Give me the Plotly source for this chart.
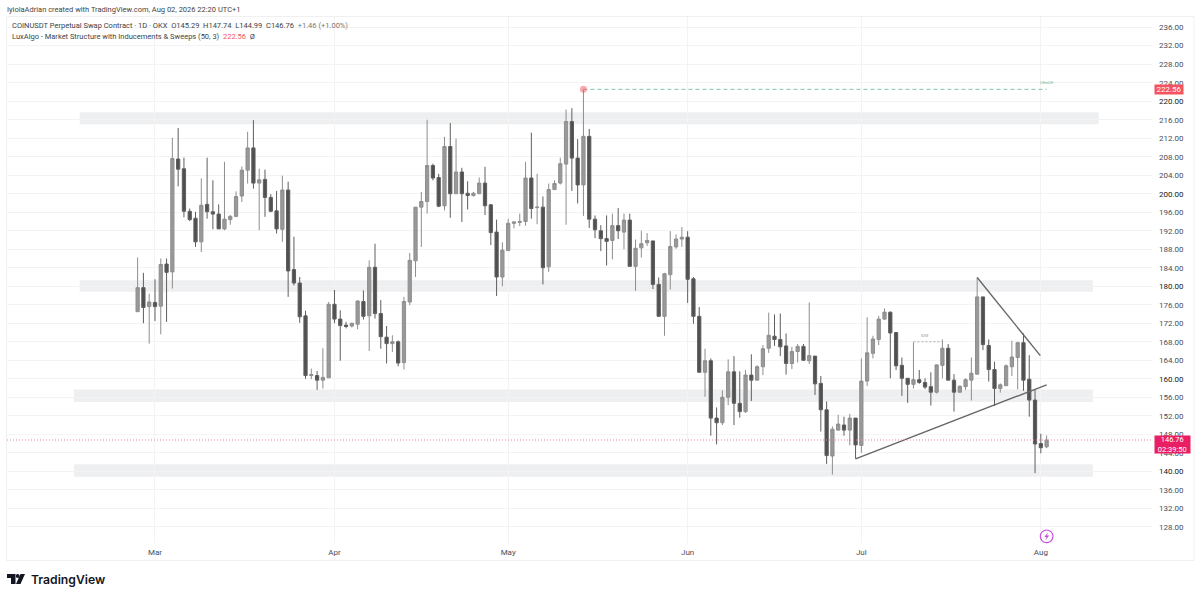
import pandas as pd
import plotly.graph_objects as go

W, H = 1200, 598

# daily candles
dates = pd.date_range("2026-02-26", periods=158, freq="D")
opens = [174.5, 179.7, 175.6, 176.5, 175.7, 184.8, 183.1, 207.5, 205.4, 196.2, 194.7, 189.6, 197.7, 196.1, 195.6, 192.4, 194.4, 195.1, 199.5, 205.1,
         209.9, 202.3, 203.1, 199.2, 196.3, 192.3, 200.8, 183.6, 180.7, 173.6, 160.7, 160.7, 159.7, 160.2, 176.1, 172.9, 171.6, 171.4, 171.8, 176.7,
         173.6, 184.1, 174.1, 169.0, 167.6, 168.0, 163.5, 176.6, 185.5, 197.1, 198.3, 206.1, 203.5, 197.4, 210.2, 200.0, 204.7, 200.1, 199.6, 200.0,
         202.3, 197.6, 191.7, 182.0, 187.7, 193.6, 193.8, 194.0, 203.4, 197.0, 197.1, 184.2, 200.9, 202.3, 206.4, 215.6, 207.7, 201.9, 212.4, 194.5,
         192.0, 190.3, 189.9, 193.1, 191.7, 194.3, 184.3, 188.3, 189.4, 189.8, 180.4, 173.5, 182.5, 188.5, 190.2, 190.6, 181.6, 173.5, 161.4, 163.9,
         151.5, 150.5, 156.0, 161.5, 154.7, 152.9, 160.8, 159.7, 162.6, 166.6, 169.2, 168.5, 167.1, 163.3, 165.9, 167.0, 163.9, 164.9, 159.0, 153.3,
         143.3, 148.9, 150.0, 148.9, 151.5, 145.6, 159.5, 165.5, 168.5, 172.9, 174.4, 170.0, 162.9, 160.1, 158.8, 159.8, 159.2, 158.3, 157.1, 162.9,
         166.6, 159.7, 157.1, 158.3, 159.7, 161.0, 177.7, 167.2, 162.0, 157.9, 158.5, 162.6, 164.6, 167.8, 159.9, 155.4, 146.0, 145.29]
highs = [186.2, 182.9, 178.4, 181.5, 186.0, 186.0, 212.1, 214.2, 207.8, 196.8, 196.1, 203.3, 207.8, 202.9, 197.7, 206.9, 195.4, 200.5, 205.9, 213.4,
         215.9, 205.4, 205.2, 199.9, 200.6, 203.9, 202.6, 190.7, 182.0, 174.7, 162.2, 161.7, 166.6, 176.6, 179.2, 174.8, 172.3, 172.1, 177.0, 179.1,
         185.6, 189.2, 177.0, 171.4, 169.4, 168.3, 177.7, 187.2, 197.1, 200.4, 216.0, 206.5, 204.3, 212.3, 215.3, 211.9, 205.6, 202.7, 200.4, 203.5,
         205.8, 197.8, 194.4, 189.5, 194.6, 194.1, 195.7, 206.9, 213.2, 204.3, 199.4, 202.2, 202.9, 207.8, 218.2, 218.5, 211.8, 222.56, 214.0, 195.3,
         193.2, 195.3, 195.7, 196.9, 195.7, 195.7, 190.1, 192.0, 191.5, 189.8, 181.9, 182.9, 191.9, 191.2, 192.8, 191.9, 182.0, 175.5, 166.5, 164.4,
         153.8, 157.5, 164.2, 164.9, 161.6, 161.9, 165.3, 162.9, 167.3, 174.3, 173.9, 174.1, 169.8, 166.9, 167.5, 167.5, 176.5, 164.9, 160.6, 155.1,
         149.7, 152.2, 151.8, 152.4, 151.5, 164.4, 173.3, 169.3, 173.6, 175.2, 174.5, 170.0, 164.6, 160.1, 167.9, 161.9, 160.1, 161.4, 163.1, 168.5,
         167.5, 161.0, 158.5, 160.1, 164.6, 181.9, 177.7, 168.5, 163.7, 159.0, 163.1, 168.2, 168.0, 169.8, 165.1, 157.6, 148.1, 147.74]
lows = [174.5, 172.0, 167.6, 172.5, 169.6, 172.3, 179.5, 201.6, 194.9, 194.1, 188.5, 187.4, 194.6, 192.3, 192.4, 192.1, 193.3, 194.9, 198.2, 202.2,
        201.1, 192.1, 195.0, 196.0, 191.4, 189.6, 177.7, 180.2, 172.1, 160.0, 159.9, 157.6, 157.9, 160.2, 172.0, 163.9, 170.9, 171.1, 170.7, 172.8,
        166.0, 173.0, 166.5, 163.3, 165.8, 162.7, 162.0, 175.9, 182.0, 188.5, 195.7, 202.9, 197.1, 196.4, 194.8, 200.0, 193.9, 196.6, 199.4, 200.0,
        195.4, 188.9, 177.9, 180.0, 187.7, 192.5, 193.0, 193.1, 194.6, 193.4, 180.4, 183.1, 200.9, 202.0, 193.3, 200.6, 197.9, 195.2, 192.6, 190.4,
        187.6, 184.5, 185.8, 190.2, 188.0, 184.3, 179.0, 186.2, 188.7, 179.4, 173.5, 169.3, 179.3, 188.1, 188.5, 176.4, 171.9, 161.4, 156.1, 147.7,
        145.8, 150.0, 154.3, 150.0, 151.6, 152.6, 155.2, 159.7, 160.8, 165.6, 167.1, 164.9, 160.9, 162.1, 163.5, 163.9, 163.2, 156.5, 148.6, 141.6,
        139.3, 148.8, 147.7, 145.6, 142.7, 144.0, 158.4, 164.4, 167.3, 172.7, 160.1, 161.9, 156.3, 154.8, 157.9, 158.9, 157.8, 154.2, 156.8, 160.1,
        159.7, 152.9, 157.0, 157.6, 155.3, 160.9, 166.2, 159.4, 154.1, 157.0, 158.5, 160.6, 157.7, 157.4, 151.8, 139.6, 143.9, 144.99]
closes = [179.7, 175.4, 176.6, 175.6, 184.7, 183.0, 207.6, 205.3, 196.2, 194.4, 189.6, 197.5, 196.1, 195.6, 192.4, 194.5, 195.1, 199.4, 205.1, 209.9,
          202.3, 203.0, 199.2, 196.2, 192.4, 200.8, 183.3, 180.7, 173.4, 160.7, 160.9, 159.7, 160.3, 176.1, 172.9, 171.5, 171.3, 172.0, 176.8, 173.5,
          184.1, 174.1, 169.1, 167.6, 168.0, 163.4, 176.7, 185.6, 197.1, 198.3, 206.1, 203.4, 197.3, 210.2, 200.0, 204.7, 200.0, 199.6, 200.1, 202.3,
          197.4, 191.6, 182.0, 187.8, 193.6, 193.9, 194.0, 203.4, 196.8, 197.1, 184.0, 200.9, 202.2, 206.5, 215.6, 207.7, 201.9, 212.4, 194.5, 192.2,
          190.3, 189.7, 193.1, 192.0, 194.3, 184.3, 188.2, 189.2, 189.9, 180.4, 173.5, 182.7, 188.6, 190.2, 190.6, 181.5, 173.5, 161.4, 163.9, 151.5,
          150.5, 156.0, 161.5, 154.7, 152.9, 160.8, 159.7, 162.6, 166.5, 169.4, 168.5, 166.9, 163.3, 165.9, 167.0, 164.0, 165.0, 158.9, 153.3, 143.4,
          149.1, 150.2, 148.9, 151.5, 145.7, 159.5, 165.6, 168.6, 172.9, 174.4, 169.9, 162.8, 160.1, 158.8, 159.8, 159.2, 158.2, 157.1, 163.0, 166.6,
          159.7, 157.1, 158.4, 159.8, 161.2, 177.7, 167.4, 162.0, 157.9, 158.7, 162.8, 164.7, 167.8, 159.7, 155.4, 145.9, 145.1, 146.76]

price_ticks = list(range(128, 240, 4))
strong_ticks = [140, 160, 180, 200, 220]
month_ticks = ["2026-03-01", "2026-04-01", "2026-05-01", "2026-06-01", "2026-07-01", "2026-08-01"]
month_labels = ["Mar", "Apr", "May", "Jun", "Jul", "Aug"]

# grey zones drawn on the chart: start, end, low, high
zone_starts = ["2026-02-16", "2026-02-16", "2026-02-15", "2026-02-15"]
zone_ends = ["2026-08-11", "2026-08-10", "2026-08-10", "2026-08-10"]
zone_lows = [215.0, 178.8, 155.0, 138.8]
zone_highs = [217.6, 181.3, 157.7, 141.5]

# drawn trendlines
up_line_x = ["2026-06-30", "2026-08-02"]
up_line_y = [142.7, 158.7]
down_line_x = ["2026-07-21", "2026-07-31 22:00"]
down_line_y = [181.9, 165.0]

# indicator levels
choch_x = ["2026-05-14", "2026-08-02"]
choch_y = [222.56, 222.56]
idm_x = ["2026-07-10", "2026-07-15"]
idm_y = [168.0, 168.0]
last_price = 146.76


def px(x):  # pixel -> paper x
    return x / W


def py(y):  # pixel -> paper y
    return 1 - y / H


def pixel_path(points):
    parts = [f"{'M' if i == 0 else 'L'} {px(a):.5f} {py(b):.5f}" for i, (a, b) in enumerate(points)]
    return " ".join(parts) + " Z"


fig = go.Figure()

fig.add_trace(go.Candlestick(
    x=dates, open=opens, high=highs, low=lows, close=closes,
    increasing=dict(line=dict(color="#8e8e8e", width=1), fillcolor="#999999"),
    decreasing=dict(line=dict(color="#5e5e5e", width=1), fillcolor="#505050"),
    whiskerwidth=0, hoverinfo="skip", showlegend=False,
))

fig.add_trace(go.Scatter(x=up_line_x, y=up_line_y, mode="lines", line=dict(color="#666666", width=1.4),
                         hoverinfo="skip", showlegend=False))
fig.add_trace(go.Scatter(x=down_line_x, y=down_line_y, mode="lines", line=dict(color="#666666", width=1.4),
                         hoverinfo="skip", showlegend=False))
fig.add_trace(go.Scatter(x=choch_x, y=choch_y, mode="lines", line=dict(color="#7fc4ad", width=1, dash="4px,3px"),
                         hoverinfo="skip", showlegend=False))
fig.add_trace(go.Scatter(x=idm_x, y=idm_y, mode="lines", line=dict(color="#b0b0b0", width=1, dash="2px,2px"),
                         hoverinfo="skip", showlegend=False))
fig.add_trace(go.Scatter(x=choch_x[:1], y=choch_y[:1], mode="markers",
                         marker=dict(color="rgba(247,82,95,0.5)", size=7, line=dict(width=0)),
                         hoverinfo="skip", showlegend=False))

shapes = []
for s, e, lo, hi in zip(zone_starts, zone_ends, zone_lows, zone_highs):
    shapes.append(dict(type="rect", xref="x", yref="y", x0=s, x1=e, y0=lo, y1=hi, layer="below",
                       fillcolor="rgba(200,202,208,0.3)", line=dict(width=0)))
# letzter Preis
shapes.append(dict(type="line", xref="x domain", yref="y", x0=0, x1=1, y0=last_price, y1=last_price,
                   line=dict(color="#ef7fa6", width=1, dash="1px,2px")))
# Rahmen um den Chart
shapes.append(dict(type="rect", xref="paper", yref="paper", x0=px(6.5), x1=px(1194), y0=py(560.5), y1=py(16.5),
                   layer="below", line=dict(color="#f0f0f2", width=1)))
# Blitz-Symbol
shapes.append(dict(type="circle", xref="paper", yref="paper", x0=px(1040.3), x1=px(1053), y0=py(542.7), y1=py(530),
                   line=dict(color="#c552dc", width=1.2)))
shapes.append(dict(type="path", xref="paper", yref="paper", line=dict(width=0), fillcolor="#c552dc",
                   path=pixel_path([(1048, 532.5), (1044.3, 537), (1046.4, 537), (1045.4, 540.2), (1049.2, 535.6), (1047, 535.6)])))
# TradingView-Logo
shapes.append(dict(type="path", xref="paper", yref="paper", line=dict(width=0), fillcolor="#131722",
                   path=pixel_path([(7, 574), (15.5, 574), (15.5, 584), (11, 584), (11, 578), (7, 578)])))
shapes.append(dict(type="circle", xref="paper", yref="paper", x0=px(15.8), x1=px(19.6), y0=py(578), y1=py(574),
                   line=dict(width=0), fillcolor="#131722"))
shapes.append(dict(type="path", xref="paper", yref="paper", line=dict(width=0), fillcolor="#131722",
                   path=pixel_path([(20.5, 574), (25, 574), (20.5, 584), (16, 584)])))

FONT = "Roboto"
TXT = "#4a4e59"
ann = [
    dict(xref="paper", yref="paper", x=px(5), y=py(9.5), xanchor="left", yanchor="middle", showarrow=False,
         text="IyiolaAdrian created with TradingView.com, Aug 02, 2026 22:20 UTC+1",
         font=dict(family=FONT, size=7.5, color="#444444")),
    dict(xref="paper", yref="paper", x=px(10), y=py(26), xanchor="left", yanchor="middle", showarrow=False,
         text="COINUSDT Perpetual Swap Contract · 1D · OKX  O145.29  H147.74  L144.99  C146.76  <span style='color:#777'>+1.46 (+1.00%)</span>",
         font=dict(family=FONT, size=7.5, color="#3c3f48")),
    dict(xref="paper", yref="paper", x=px(10), y=py(36.5), xanchor="left", yanchor="middle", showarrow=False,
         text="LuxAlgo - Market Structure with Inducements & Sweeps (50, 3)  <span style='color:#f7525f'>222.56</span>  Ø",
         font=dict(family=FONT, size=7.5, color="#3c3f48")),
    dict(xref="x", yref="y", x="2026-08-02", y=222.56, yshift=7, xanchor="center", yanchor="middle", showarrow=False,
         text="CHoCH", font=dict(family=FONT, size=4, color="#5ab79a")),
    dict(xref="x", yref="y", x="2026-07-12", y=168.0, yshift=6, xanchor="center", yanchor="middle", showarrow=False,
         text="IDM", font=dict(family=FONT, size=4, color="#a0a0a0")),
    dict(xref="paper", yref="y", x=px(1154), y=222.56, xanchor="left", yanchor="middle", showarrow=False,
         text="222.56", width=28, height=9, bgcolor="#f7525f", borderpad=0, align="center",
         font=dict(family=FONT, size=8, color="#ffffff")),
    dict(xref="paper", yref="y", x=px(1154), y=last_price, yshift=5, xanchor="left", yanchor="top", showarrow=False,
         text="146.76<br>02:39:50", width=34.5, height=17, bgcolor="#e91e63", borderpad=0, align="center",
         font=dict(family=FONT, size=7.5, color="#ffffff")),
    dict(xref="paper", yref="paper", x=px(29), y=py(579.5), xanchor="left", yanchor="middle", showarrow=False,
         text="TradingView", font=dict(family="Inter", size=12.2, color="#131722", weight=600)),
]

tick_text = []
for t in price_ticks:
    if t in strong_ticks:
        tick_text.append(f"<span style='color:#131722'>{t:.2f}</span>")
    else:
        tick_text.append(f"{t:.2f}")

fig.update_layout(
    width=W, height=H,
    margin=dict(l=0, r=0, t=0, b=0),
    paper_bgcolor="white", plot_bgcolor="white",
    showlegend=False,
    hovermode=False,
    boxgap=0.2,
    shapes=shapes,
    annotations=ann,
    font=dict(family=FONT),
    xaxis=dict(
        domain=[px(7), px(1152)],
        range=["2026-02-03 10:34", "2026-08-20 04:48"],
        type="date", rangeslider=dict(visible=False),
        tickmode="array", tickvals=month_ticks, ticktext=month_labels,
        showgrid=True, gridcolor="#f3f3f4", gridwidth=1, zeroline=False, showline=False, ticks="",
        ticklabelstandoff=3,
        tickfont=dict(family=FONT, size=8, color=TXT),
    ),
    yaxis=dict(
        domain=[py(543), py(17)],
        range=[124.5, 238.2],
        side="right",
        tickmode="array", tickvals=price_ticks, ticktext=tick_text,
        showgrid=True, gridcolor="#f3f3f4", gridwidth=1, zeroline=False, showline=False, ticks="",
        ticklabelstandoff=6,
        tickfont=dict(family=FONT, size=8, color=TXT),
    ),
)

# Seitenrand des Browsers entfernen, sonst sitzt alles 8px versetzt
fig.write_html("out.html", config={"displayModeBar": False}, post_script="document.body.style.margin='0';")
